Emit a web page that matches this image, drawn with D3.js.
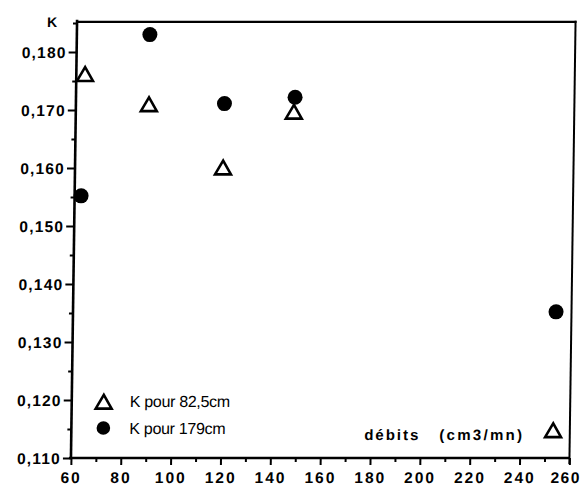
<!DOCTYPE html>
<html>
<head>
<meta charset="utf-8">
<script src="https://cdn.jsdelivr.net/npm/d3@7"></script>
<style>
  body { margin: 0; background: #fff; }
  text { font-family: "Liberation Sans", Arial, Helvetica, sans-serif; fill: #000; }
</style>
</head>
<body>
<div id="plot"></div>
<script>
// Debits (cm3/mn) and K values
const debits82 = [63.5, 89.3, 119.4, 147.5, 253.3];
const k82 = [0.1758, 0.1706, 0.1597, 0.1693, 0.1144];
const debits179 = [62.6, 89.3, 119.6, 147.9, 253.8];
const k179 = [0.1552, 0.1830, 0.1711, 0.1722, 0.1352];

const xTicks = [60, 80, 100, 120, 140, 160, 180, 200, 220, 240, 260];
const yTicks = [0.110, 0.120, 0.130, 0.140, 0.150, 0.160, 0.170, 0.180];

const legendLabels = ["K pour 82,5cm", "K pour 179cm"];

function plot() {
  const width = 584, height = 487;
  const svg = d3.select("#plot")
    .append("svg")
      .attr("width", width)
      .attr("height", height);

  // the scanned page is slightly skewed: top sits a few px right of the bottom
  const root = svg.append("g")
    .attr("transform", "translate(0,240) skewX(-0.8) translate(0,-240)");

  const x = d3.scaleLinear().domain([60, 260]).range([74, 572.5]);
  const y = d3.scaleLinear().domain([0.110, 0.180]).range([458, 52]);
  const yTop = 0.1852;

  // Frame lines (top, right)
  root.append("line")
    .attr("x1", x(60)).attr("x2", x(260) + 1)
    .attr("y1", y(yTop)).attr("y2", y(yTop))
    .attr("stroke", "#000")
    .attr("stroke-width", 2.4);
  root.append("line")
    .attr("x1", x(260)).attr("x2", x(260))
    .attr("y1", y(yTop) - 1).attr("y2", y(0.110) + 6)
    .attr("stroke", "#000")
    .attr("stroke-width", 2);

  // Y axis
  const yAxis = root.append("g")
    .attr("transform", `translate(${x(60)},0)`)
    .call(d3.axisLeft(y)
      .tickValues(d3.range(0, 16).map(i => 0.110 + i * 0.005))
      .tickSize(5)
      .tickFormat(d => {
        const r = Math.round(d * 1000);
        return yTicks.some(t => Math.round(t * 1000) === r) ? d3.format(".3f")(d).replace(".", ",") : "";
      }));
  yAxis.select(".domain")
    .attr("d", `M0,${y(0.110)}V${y(yTop) - 2}`)
    .attr("stroke-width", 2.6);
  yAxis.selectAll(".tick line").attr("stroke-width", 2.2)
    .attr("x2", d => Math.round(d * 1000) % 10 === 0 ? -8 : -4);
  yAxis.selectAll(".tick text")
    .attr("x", -10)
    .attr("dy", "0.36em")
    .style("font-size", "15.5px")
    .style("font-weight", "bold")
    .style("letter-spacing", "1.2px");

  // X axis
  const xAxis = root.append("g")
    .attr("transform", `translate(0,${y(0.110)})`)
    .call(d3.axisBottom(x)
      .tickValues(d3.range(60, 261, 10))
      .tickSize(5)
      .tickFormat(d => xTicks.includes(d) ? d : ""));
  xAxis.select(".domain")
    .attr("d", `M${x(60) - 2},0H${x(260)}`)
    .attr("stroke-width", 2.4);
  xAxis.selectAll(".tick line").attr("stroke-width", 2)
    .attr("y2", d => xTicks.includes(d) ? 7 : 4);
  xAxis.selectAll(".tick text")
    .attr("y", 25)
    .attr("dy", 0)
    .attr("dx", d => d === 260 ? -4 : 0)
    .style("font-size", "15.5px")
    .style("font-weight", "bold")
    .style("letter-spacing", d => d === 260 ? "1.5px" : "2px");

  // Axis titles
  root.append("text")
    .attr("x", 44).attr("y", 27)
    .style("font-size", "14px")
    .style("font-weight", "bold")
    .text("K");
  root.append("text")
    .attr("x", 367).attr("y", 440)
    .style("font-size", "15px")
    .style("font-weight", "bold")
    .style("letter-spacing", "2px")
    .text("débits");
  root.append("text")
    .attr("x", 442).attr("y", 440)
    .style("font-size", "15px")
    .style("font-weight", "bold")
    .style("letter-spacing", "2.3px")
    .text("(cm3/mn)");

  const tri = d3.symbol().type(d3.symbolTriangle).size(110);

  // Series 82,5cm : open triangles
  const data82 = debits82.map((d, i) => [d, k82[i]]);
  root.append("g")
    .selectAll("path")
    .data(data82)
    .enter()
    .append("path")
      .attr("d", tri)
      .attr("transform", d => `translate(${x(d[0])},${y(d[1])})`)
      .attr("fill", "#fff")
      .attr("stroke", "#000")
      .attr("stroke-width", 2.6)
      .attr("stroke-linejoin", "miter");

  // Series 179cm : filled circles
  const data179 = debits179.map((d, i) => [d, k179[i]]);
  root.append("g")
    .selectAll("circle")
    .data(data179)
    .enter()
    .append("circle")
      .attr("cx", d => x(d[0]))
      .attr("cy", d => y(d[1]))
      .attr("r", 7.5)
      .attr("fill", "#000");

  // Legend
  const legend = root.append("g").attr("transform", "translate(106,0)");
  legend.append("path")
    .attr("d", tri)
    .attr("transform", "translate(0,404)")
    .attr("fill", "#fff")
    .attr("stroke", "#000")
    .attr("stroke-width", 2.6);
  legend.append("circle")
    .attr("cx", 0).attr("cy", 428).attr("r", 6.8)
    .attr("fill", "#000");
  legend.selectAll("text.lg")
    .data(legendLabels)
    .enter()
    .append("text")
      .attr("class", "lg")
      .attr("x", 26)
      .attr("y", (d, i) => 407 + i * 27)
      .style("font-size", "16px")
      .style("letter-spacing", "-0.3px")
      .text(d => d);
}

plot();
</script>
</body>
</html>
